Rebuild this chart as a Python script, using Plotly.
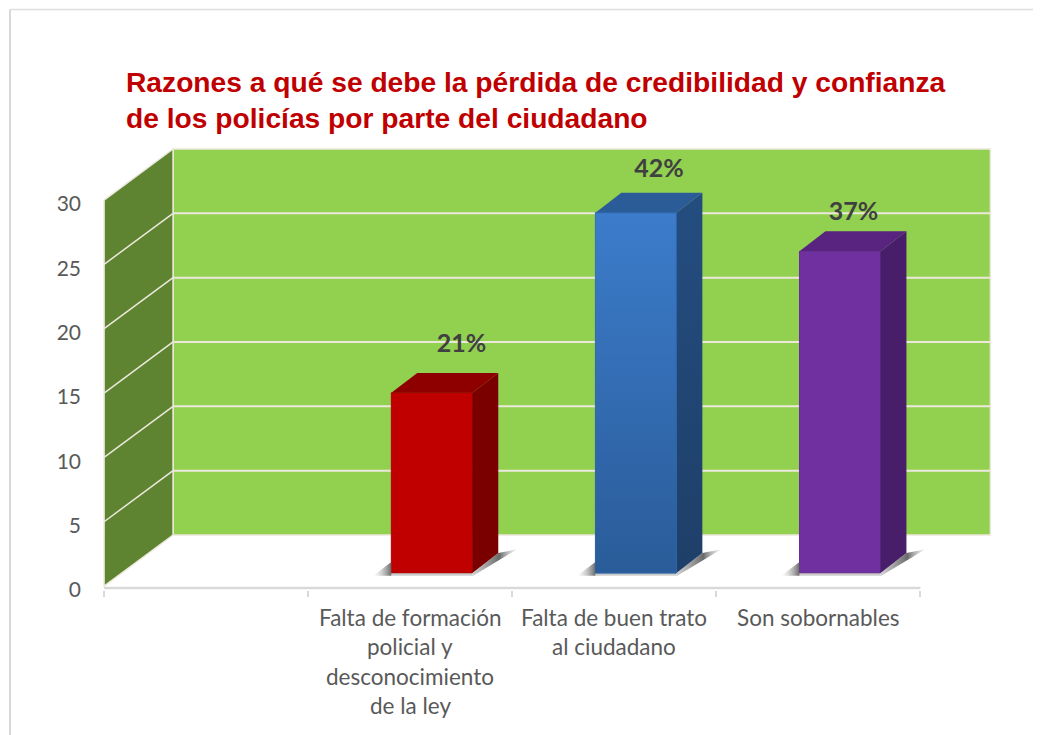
import plotly.graph_objects as go

TITLE = "Razones a qué se debe la pérdida de credibilidad y confianza<br>de los policías por parte del ciudadano"

# first slot of the category axis is empty in the original
label_lines = [["Falta de formación", "policial y", "desconocimiento", "de la ley"],
               ["Falta de buen trato", "al ciudadano"],
               ["Son sobornables"]]
slot_centers = [1.5, 2.5, 3.5]
values = [14, 28, 25]
percents = ["21%", "42%", "37%"]
y_ticks = [0, 5, 10, 15, 20, 25, 30]
x_ticks = [0, 1, 2, 3, 4]

front_colors = ["#C00000", "#3A78C6", "#7030A0"]
side_colors = ["#7A0000", "#234B7C", "#481E6A"]
top_colors = ["#8E0000", "#2B5C97", "#58247F"]
edge_colors = ["#B00000", "#2F66A8", "#6A2C99"]

# how far the 3d projection shifts things, in axis units
AXIS_Y = 0.155        # drawn axis line sits just above the zero of the scale
WALL_DX, WALL_DY = 0.338, 3.97
WALL_BASE = AXIS_Y + 0.15
WALL_TOP = 30
WALL_RIGHT = 4.343
BAR_WIDTH = 0.397
BAR_SHIFT = 0.106     # front face sits a bit right of the slot centre
BAR_BASE = AXIS_Y + 1.165
BAR_DX, BAR_DY = 0.127, 1.55
LABEL_DX = [0.145, 0.113, 0.066]
LABEL_DY = [3.67, 3.25, 2.9]

GREY = "#595959"
GRID = "#EDE8DC"
FONT = "Lato"

fig = go.Figure()

# walls
back_y0 = WALL_BASE + WALL_DY
shapes = [
    dict(type="path", layer="below", fillcolor="#92D050", line=dict(color=GRID, width=1.5),
         path=f"M {WALL_DX} {back_y0} L {WALL_RIGHT} {back_y0} "
              f"L {WALL_RIGHT} {back_y0 + WALL_TOP} L {WALL_DX} {back_y0 + WALL_TOP} Z"),
    dict(type="path", layer="below", fillcolor="#5E8431", line=dict(color=GRID, width=1.5),
         path=f"M 0 {WALL_BASE} L {WALL_DX} {back_y0} L {WALL_DX} {back_y0 + WALL_TOP} "
              f"L 0 {WALL_BASE + WALL_TOP} Z"),
]
for v in y_ticks[1:-1]:
    shapes.append(dict(type="line", layer="below", line=dict(color=GRID, width=2),
                       x0=WALL_DX, x1=WALL_RIGHT, y0=back_y0 + v, y1=back_y0 + v))
    shapes.append(dict(type="line", layer="below", line=dict(color=GRID, width=1.5),
                       x0=0, x1=WALL_DX, y0=WALL_BASE + v, y1=back_y0 + v))
# outer frame of the picture
shapes.append(dict(type="line", xref="paper", yref="paper", x0=-0.1, x1=-0.1, y0=-0.33, y1=1.29,
                   line=dict(color="#D9D9D9", width=2)))
shapes.append(dict(type="line", xref="paper", yref="paper", x0=-0.1, x1=1.05, y0=1.29, y1=1.29,
                   line=dict(color="#DEDEDE", width=1.5)))

# front faces
fig.add_trace(go.Bar(
    x=[c + BAR_SHIFT for c in slot_centers], y=values, base=BAR_BASE, width=BAR_WIDTH,
    marker=dict(color=front_colors, line=dict(color=edge_colors, width=1)),
    showlegend=False, hoverinfo="skip",
))

for i, c in enumerate(slot_centers):
    left = c + BAR_SHIFT - BAR_WIDTH / 2
    right = left + BAR_WIDTH
    bottom = BAR_BASE
    top = BAR_BASE + values[i]

    # floor shadow around the bar
    fig.add_trace(go.Scatter(
        x=[left, right, right, left], y=[bottom - 0.22, bottom - 0.22, bottom, bottom],
        mode="lines", fill="toself", line=dict(width=0), fillcolor="rgba(170,170,170,0.6)",
        showlegend=False, hoverinfo="skip",
    ))
    fig.add_trace(go.Scatter(
        x=[left - 0.09, left, left], y=[bottom - 0.22, bottom + 0.85, bottom - 0.22],
        mode="lines", fill="toself", line=dict(width=0),
        fillgradient=dict(type="horizontal", colorscale=[[0, "rgba(190,190,190,0)"], [1, "rgba(90,90,90,0.9)"]]),
        showlegend=False, hoverinfo="skip",
    ))
    fig.add_trace(go.Scatter(
        x=[right, right + 0.22, right + BAR_DX, right],
        y=[bottom - 0.25, bottom + 1.85, bottom + BAR_DY, bottom],
        mode="lines", fill="toself", line=dict(width=0),
        fillgradient=dict(type="horizontal", colorscale=[[0, "rgba(200,200,200,0.8)"], [0.6, "rgba(90,90,90,0.9)"],
                                                         [1, "rgba(190,190,190,0.2)"]]),
        showlegend=False, hoverinfo="skip",
    ))
    # right side, blue one is shaded
    side = dict(fillcolor=side_colors[i])
    if i == 1:
        side = dict(fillgradient=dict(type="vertical", colorscale=[[0, "#1E3F68"], [1, "#244D80"]]))
    fig.add_trace(go.Scatter(
        x=[right, right + BAR_DX, right + BAR_DX, right], y=[bottom, bottom + BAR_DY, top + BAR_DY, top],
        mode="lines", fill="toself", line=dict(width=0), showlegend=False, hoverinfo="skip", **side,
    ))
    # top
    fig.add_trace(go.Scatter(
        x=[left, left + BAR_DX, right + BAR_DX, right], y=[top, top + BAR_DY, top + BAR_DY, top],
        mode="lines", fill="toself", line=dict(width=0), fillcolor=top_colors[i],
        showlegend=False, hoverinfo="skip",
    ))

# blue column has a vertical gradient, the bar colour alone cannot do it
left = slot_centers[1] + BAR_SHIFT - BAR_WIDTH / 2
fig.add_trace(go.Scatter(
    x=[left, left + BAR_WIDTH, left + BAR_WIDTH, left],
    y=[BAR_BASE, BAR_BASE, BAR_BASE + values[1], BAR_BASE + values[1]],
    mode="lines", fill="toself", line=dict(width=1, color="#2F66A8"),
    fillgradient=dict(type="vertical", colorscale=[[0, "#2A5C99"], [1, "#3C7CCB"]]),
    showlegend=False, hoverinfo="skip",
))

# data labels
fig.add_trace(go.Scatter(
    x=[c + BAR_SHIFT + dx for c, dx in zip(slot_centers, LABEL_DX)],
    y=[BAR_BASE + v + dy for v, dy in zip(values, LABEL_DY)],
    mode="text", text=percents, textposition="middle center",
    textfont=dict(family=FONT, size=25, color="#404040", weight="bold"),
    showlegend=False, hoverinfo="skip",
))

# x axis line only runs as far as the last category
fig.add_trace(go.Scatter(
    x=[x_ticks[0], x_ticks[-1]], y=[AXIS_Y, AXIS_Y], mode="lines", cliponaxis=False,
    line=dict(color="#D9D9D9", width=2.5), showlegend=False, hoverinfo="skip",
))

annotations = []
for c, lines in zip(slot_centers, label_lines):
    for n, line in enumerate(lines):
        annotations.append(dict(
            x=c, y=0, xref="x", yref="y", text=line, showarrow=False,
            xanchor="center", yanchor="middle", yshift=-27.5 - 29.3 * n,
            font=dict(family=FONT, size=22.5, color=GREY),
        ))

# the page adds 8px round the figure
fig.update_layout(
    width=1033, height=727,
    margin=dict(l=92, r=41, t=132, b=145),
    paper_bgcolor="white", plot_bgcolor="white",
    barmode="overlay",
    title=dict(text=TITLE, x=118 / 1033, xanchor="left", y=1 - 83.5 / 727, yanchor="middle",
               font=dict(family="Liberation Sans", size=28.2, color="#C00000", weight="bold")),
    shapes=shapes,
    annotations=annotations,
    xaxis=dict(range=[-0.02, 4.39], showgrid=False, zeroline=False, showline=False,
               tickvals=[], minor=dict(tickvals=x_ticks, ticks="outside", ticklen=5.5, tickwidth=2,
                                       tickcolor="#D9D9D9", showgrid=False)),
    yaxis=dict(range=[0, 34.97], tickvals=y_ticks, showgrid=False, zeroline=False, showline=False,
               ticklabelstandoff=18, tickfont=dict(family=FONT, size=21, color=GREY)),
)

fig.write_html("out.html")
